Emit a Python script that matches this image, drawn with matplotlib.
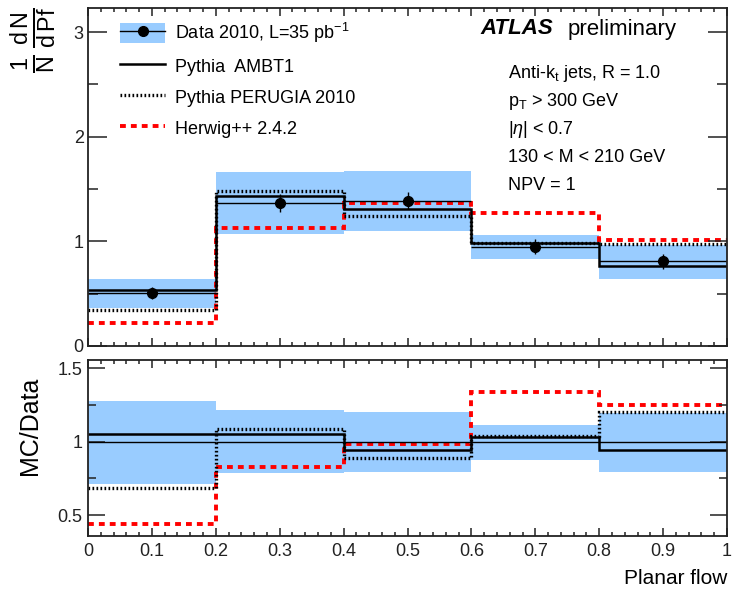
import numpy as np
import matplotlib.pyplot as plt
from matplotlib.patches import Patch
from matplotlib.lines import Line2D
from matplotlib.ticker import MultipleLocator, FuncFormatter

plt.rcParams['font.family'] = ['Liberation Sans', 'DejaVu Sans']
plt.rcParams['mathtext.fontset'] = 'custom'
plt.rcParams['mathtext.rm'] = 'Liberation Sans'
plt.rcParams['mathtext.it'] = 'Liberation Sans:italic'
plt.rcParams['mathtext.bf'] = 'Liberation Sans:bold'

# planar flow bins
edges = [0.0, 0.2, 0.4, 0.6, 0.8, 1.0]
centers = [0.1, 0.3, 0.5, 0.7, 0.9]

# unfolded data, stat error and total uncertainty band
data = [0.505, 1.365, 1.39, 0.95, 0.81]
data_stat = [0.06, 0.085, 0.085, 0.075, 0.07]
band_lo = [0.36, 1.07, 1.10, 0.83, 0.64]
band_hi = [0.645, 1.66, 1.675, 1.06, 0.967]

# MC predictions
ambt1 = [0.532, 1.435, 1.31, 0.98, 0.765]
perugia = [0.345, 1.48, 1.24, 0.985, 0.976]
herwig = [0.22, 1.13, 1.37, 1.275, 1.015]

BAND = '#99ccff'
AX = '#222222'

W, H = 734, 590


def fx(x):
    return x / W


def fy(y):
    return 1 - y / H


fig = plt.figure(figsize=(W / 100, H / 100), dpi=100)
ax1 = fig.add_axes([fx(88), fy(346), 639 / W, 338 / H])
ax2 = fig.add_axes([fx(88), fy(536), 639 / W, 176 / H])

data = np.array(data)
edges = np.array(edges)


def draw(ax, d, lo, hi, a, p, h, stat=None):
    ax.stairs(hi, edges, baseline=lo, fill=True, color=BAND, lw=0)
    ax.hlines(d, edges[:-1], edges[1:], color='black', lw=1.0)
    ax.stairs(h, edges, color='red', lw=2.8, ls=(0, (1.5, 1.3)), baseline=None)
    ax.stairs(p, edges, color='black', lw=2.4, ls=(0, (0.5, 0.7)), baseline=None)
    ax.stairs(a, edges, color='black', lw=1.8, baseline=None)
    if stat is not None:
        ax.errorbar(centers, d, yerr=stat, fmt='o', color='black',
                    ms=7, elinewidth=1.0, capsize=0)


draw(ax1, data, band_lo, band_hi, ambt1, perugia, herwig, data_stat)
draw(ax2, data / data, np.array(band_lo) / data, np.array(band_hi) / data,
     np.array(ambt1) / data, np.array(perugia) / data, np.array(herwig) / data)

ax1.set_xlim(0, 1)
ax1.set_ylim(0, 3.23)
ax2.set_xlim(0, 1)
ax2.set_ylim(0.357, 1.557)

fmt = FuncFormatter(lambda v, pos: f'{v:g}')
for ax in (ax1, ax2):
    for s in ax.spines.values():
        s.set_color(AX)
        s.set_linewidth(1.3)
    ax.xaxis.set_major_locator(MultipleLocator(0.1))
    ax.xaxis.set_minor_locator(MultipleLocator(0.02))
    ax.tick_params(which='both', direction='in', top=True, right=True,
                   colors=AX, labelcolor='#222222', labelsize=13, width=1.1)
    ax.tick_params(axis='x', which='major', length=6)
    ax.tick_params(axis='x', which='minor', length=3)
    ax.xaxis.set_major_formatter(fmt)
    ax.yaxis.set_major_formatter(fmt)

ax1.yaxis.set_major_locator(MultipleLocator(1))
ax1.yaxis.set_minor_locator(MultipleLocator(0.5))
ax1.tick_params(axis='y', which='major', length=14, pad=3)
ax1.tick_params(axis='y', which='minor', length=7)
ax1.tick_params(axis='x', labelbottom=False)

ax2.yaxis.set_major_locator(MultipleLocator(0.5))
ax2.yaxis.set_minor_locator(MultipleLocator(0.25))
ax2.tick_params(axis='y', which='major', length=12, pad=4)
ax2.tick_params(axis='y', which='minor', length=6)
ax2.tick_params(axis='x', pad=5)

# legend
h_data = (Patch(facecolor=BAND, edgecolor='none'),
          Line2D([], [], color='black', lw=1.0, marker='o', ms=7))
h_ambt1 = Line2D([], [], color='black', lw=1.8)
h_perugia = Line2D([], [], color='black', lw=2.4, ls=(0, (0.5, 0.7)))
h_herwig = Line2D([], [], color='red', lw=2.8, ls=(0, (1.5, 1.3)))
ax1.legend([h_data, h_ambt1, h_perugia, h_herwig],
           ['Data 2010, L=35 pb$^{-1}$', 'Pythia  AMBT1',
            'Pythia PERUGIA 2010', 'Herwig++ 2.4.2'],
           loc='upper left', bbox_to_anchor=(fx(120), fy(21)),
           bbox_transform=fig.transFigure, frameon=False, fontsize=13,
           handlelength=2.5, handleheight=1.3, handletextpad=0.55,
           labelspacing=0.62, borderaxespad=0, borderpad=0)

fig.text(fx(480), fy(29), 'ATLAS', fontsize=16, fontweight='bold',
         fontstyle='italic', va='center', ha='left')
fig.text(fx(568), fy(29), 'preliminary', fontsize=16, va='center', ha='left')

info = ['Anti-k$_\\mathrm{t}$ jets, R = 1.0', 'p$_\\mathrm{T}$ > 300 GeV',
        '|$\\eta$| < 0.7', '130 < M < 210 GeV', 'NPV = 1']
for i, line in enumerate(info):
    fig.text(fx(508), fy(73 + 28 * i), line, fontsize=13, va='center', ha='left')

fig.text(fx(34), fy(40), r'$\frac{\mathrm{1}}{\mathrm{N}}\,\frac{\mathrm{d\,N}}{\mathrm{d\,Pf}}$',
         rotation=90, fontsize=24, ha='center', va='center')
fig.text(fx(30), fy(426), 'MC/Data', rotation=90, fontsize=18,
         ha='center', va='center')
fig.text(fx(727), fy(578), 'Planar flow', fontsize=15, ha='right', va='center')

fig.savefig('out.png', dpi=100)
